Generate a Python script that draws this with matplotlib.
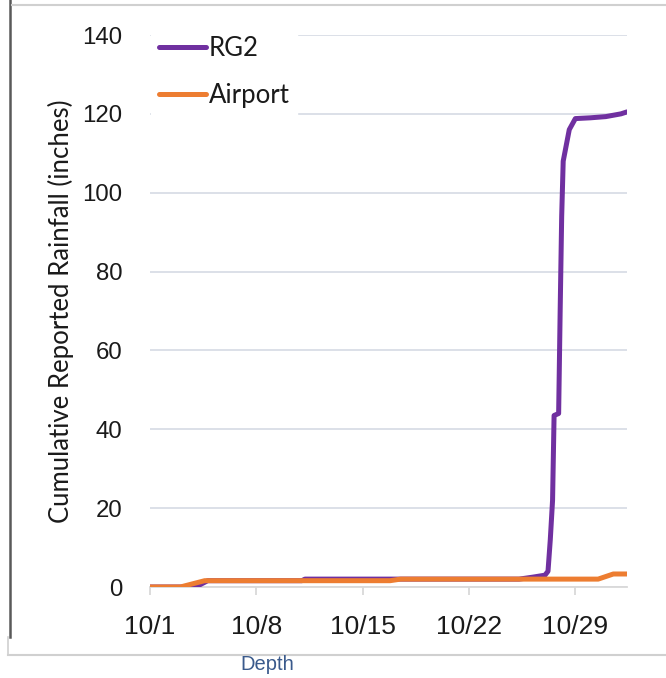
import pandas as pd
import matplotlib.pyplot as plt
from matplotlib.lines import Line2D

# Días desde el 1 de octubre y lluvia acumulada (pulgadas)
rg2_dias = [0, 3.0, 3.8, 10.0, 10.2, 16.5, 24.3, 25.2, 26.0, 26.2, 26.35, 26.5, 26.6,
            26.9, 27.0, 27.1, 27.2, 27.4, 27.6, 28.0, 29.0, 30.0, 31.0, 31.4]
rg2_lluvia = [0, 0, 1.6, 1.6, 2.0, 2.0, 2.0, 2.5, 3.0, 4.0, 12.0, 22.0, 43.5,
              44.0, 70.0, 94.0, 108.0, 112.0, 116.0, 118.8, 119.0, 119.3, 120.0, 120.5]

aeropuerto_dias = [0, 2.0, 3.6, 15.8, 16.5, 29.5, 30.5, 31.4]
aeropuerto_lluvia = [0, 0, 1.6, 1.6, 2.0, 2.0, 3.3, 3.3]

inicio = pd.Timestamp("2018-10-01")
fechas_ticks = ["2018-10-01", "2018-10-08", "2018-10-15", "2018-10-22", "2018-10-29"]
etiquetas_ticks = ["10/1", "10/8", "10/15", "10/22", "10/29"]
y_ticks = [0, 20, 40, 60, 80, 100, 120, 140]

rg2_x = [inicio + pd.Timedelta(days=d) for d in rg2_dias]
aero_x = [inicio + pd.Timedelta(days=d) for d in aeropuerto_dias]

fig = plt.figure(figsize=(6.66, 6.78), dpi=100)
ax = fig.add_axes([150 / 666, 1 - 587 / 678, 477 / 666, 552 / 678])

ax.plot(rg2_x, rg2_lluvia, color="#7030a0", linewidth=3.6, label="RG2",
        solid_capstyle="round", solid_joinstyle="round", zorder=3)
ax.plot(aero_x, aeropuerto_lluvia, color="#ed7d31", linewidth=3.6, label="Airport",
        solid_capstyle="round", solid_joinstyle="round", zorder=4)

ax.set_xlim(inicio, inicio + pd.Timedelta(days=31.4))
ax.set_ylim(0, 140)
ax.set_yticks(y_ticks)
ax.set_xticks([pd.Timestamp(f) for f in fechas_ticks])
ax.set_xticklabels(etiquetas_ticks)

ax.grid(axis="y", color="#d9dde6", linewidth=1.3)
ax.set_axisbelow(True)
for lado in ["left", "right", "top"]:
    ax.spines[lado].set_visible(False)
ax.spines["bottom"].set_color("#d9d9d9")
ax.spines["bottom"].set_linewidth(1.3)

ax.tick_params(axis="y", length=0, pad=20, labelsize=17.3, labelcolor="#1a1a1a")
ax.tick_params(axis="x", length=6, width=1.3, color="#d9d9d9", pad=14,
               labelsize=19, labelcolor="#1a1a1a")
for t in ax.get_xticklabels() + ax.get_yticklabels():
    t.set_fontfamily("Liberation Sans")

ax.set_ylabel("Cumulative Reported Rainfall (inches)", fontsize=18.5,
              fontfamily="Lato", color="#1a1a1a", labelpad=6)

leg = ax.legend(loc="upper left", bbox_to_anchor=(-0.025, 1.035), frameon=True,
                fancybox=False, edgecolor="white", facecolor="white", framealpha=1,
                prop={"family": "Lato", "size": 18.5}, handlelength=1.85,
                handletextpad=0.1, labelspacing=0.85, borderpad=0.3)
for t in leg.get_texts():
    t.set_color("#1a1a1a")

# Marco de la captura
fig.add_artist(Line2D([10 / 666, 10 / 666], [1, 1 - 637 / 678], color="#595959", linewidth=1.8))
fig.add_artist(Line2D([12 / 666, 1], [1 - 5 / 678, 1 - 5 / 678], color="#d0d0d0", linewidth=1.5))
fig.add_artist(Line2D([8 / 666, 1], [1 - 655 / 678, 1 - 655 / 678], color="#d0d0d0", linewidth=1.5))
fig.add_artist(Line2D([8 / 666, 8 / 666], [1 - 637 / 678, 1 - 655 / 678], color="#d0d0d0", linewidth=1.2))

fig.text(267 / 666, 1 - 665 / 678, "Depth", fontsize=14.5, fontfamily="Liberation Sans",
         color="#3a5a8c", ha="center", va="center")

fig.savefig("out.png", dpi=100)
